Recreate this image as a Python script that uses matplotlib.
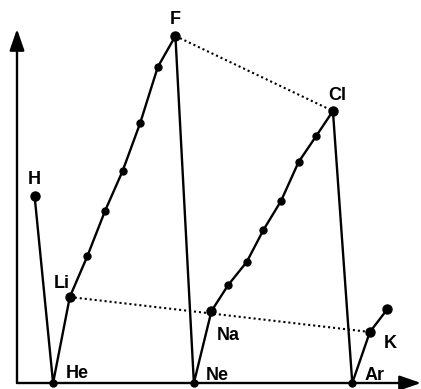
import matplotlib

matplotlib.use("Agg")

import matplotlib.pyplot as plt

# element positions along the path (x in element steps, y in arbitrary units)
path_names = ["H", "He", "Li", "", "", "", "", "", "F", "Ne", "Na", "", "", "", "", "", "", "Cl", "Ar", "K", ""]
path_x = [1.0, 2.05, 3.0, 4.0, 5.0, 6.0, 7.0, 8.0, 9.0, 10.05, 11.05,
          12.0, 13.05, 14.0, 15.0, 16.0, 17.0, 17.95, 19.05, 20.05, 21.05]
path_y = [18.7, 0.0, 8.6, 12.7, 17.2, 21.2, 26.0, 31.6, 34.7, 0.0, 7.2,
          9.8, 12.1, 15.3, 18.2, 22.1, 24.7, 27.2, 0.0, 5.1, 7.4]

# dotted trend lines: F -> Cl and Li -> K
dotted_pairs = [("F", "Cl"), ("Li", "K")]

# label offsets in pixels (dx, dy) relative to the point
label_offsets = {
    "H": (0, 16), "He": (24, 9), "Li": (-8, 13), "F": (0, 17), "Ne": (23, 8),
    "Na": (17, -24), "Cl": (4, 16), "Ar": (22, 8), "K": (20, -11),
}

W, H = 421, 389
fig = plt.figure(figsize=(W / 100, H / 100), dpi=100)
x0_px, x1_px, y0_px, y1_px = 17, 421, 383, 29
ax = fig.add_axes([x0_px / W, (H - y0_px) / H, (x1_px - x0_px) / W, (y0_px - y1_px) / H])
ax.set_xlim(0, (x1_px - x0_px) / 17.6)
ax.set_ylim(0, (y0_px - y1_px) / 10)
ax.axis("off")

# axes with arrowheads
arrow = dict(arrowstyle="-|>,head_length=1.3,head_width=0.45", color="black", lw=1.7,
             shrinkA=0, shrinkB=0)
ax.annotate("", xy=(1, 0), xytext=(0, 0), xycoords="axes fraction", arrowprops=arrow,
            annotation_clip=False)
ax.annotate("", xy=(0, 1), xytext=(0, 0), xycoords="axes fraction", arrowprops=arrow,
            annotation_clip=False)

ax.plot(path_x, path_y, color="black", lw=1.7, marker="o", ms=5, mfc="black",
        mec="black", clip_on=False, zorder=3)

idx = {n: i for i, n in enumerate(path_names) if n}
ends = [idx[n] for n in ("H", "F", "Cl", "Li", "Na", "K")] + [len(path_x) - 1]
ax.plot([path_x[i] for i in ends], [path_y[i] for i in ends], ls="none", marker="o",
        ms=6.5, color="black", zorder=4)

for a, b in dotted_pairs:
    ax.plot([path_x[idx[a]], path_x[idx[b]]], [path_y[idx[a]], path_y[idx[b]]],
            color="black", lw=1.5, ls=(0, (1, 1.4)), zorder=2)

for name, i in idx.items():
    dx, dy = label_offsets[name]
    ax.annotate(name, (path_x[i], path_y[i]), xytext=(dx, dy), textcoords="offset pixels",
                ha="center", va="center", fontsize=13, fontweight="bold",
                family="Liberation Sans", annotation_clip=False)

fig.savefig("out.png", dpi=100)
